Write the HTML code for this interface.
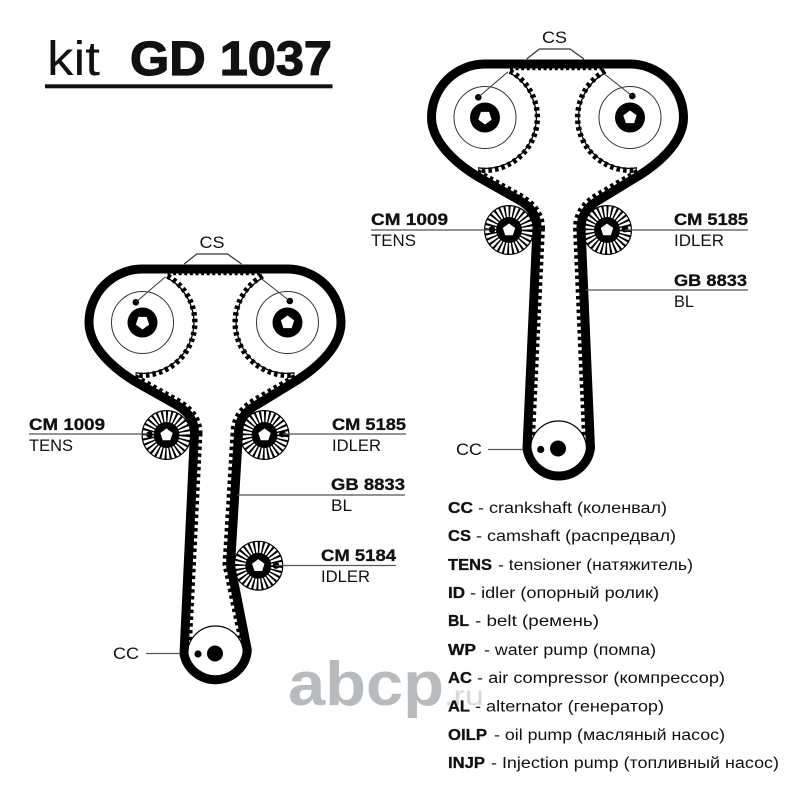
<!DOCTYPE html>
<html><head><meta charset="utf-8"><style>
html,body{margin:0;padding:0;background:#fff}
svg{display:block}
text{font-family:"Liberation Sans",sans-serif;fill:#111}
.b{font-weight:700}
.l{font-size:16.5px}
.lb{font-size:16.5px;font-weight:700;stroke:#111;stroke-width:.3}
.t{font-size:15.5px}
.tb{font-size:15.5px;font-weight:700;stroke:#111;stroke-width:.3}
.belt{fill:none;stroke:#000;stroke-width:9;stroke-linejoin:round}
.tooth{fill:none;stroke:#000;stroke-width:4;stroke-dasharray:3.5 3.3}
.ptooth{fill:none;stroke:#000;stroke-width:5.4;stroke-dasharray:3.5 3.1}
.ring{fill:none;stroke:#000;stroke-width:1.3}
.thin{fill:none;stroke:#333;stroke-width:1}
.lead{fill:none;stroke:#555;stroke-width:1.2}
</style></head><body>
<svg width="800" height="800" viewBox="0 0 800 800" xmlns="http://www.w3.org/2000/svg">
<defs>
<g id="idler">
<circle r="24.4" fill="#fff" stroke="#000" stroke-width="1.2"/>
<circle r="18.5" fill="none" stroke="#000" stroke-width="12" pathLength="112" stroke-dasharray="1.7 2.3"/>
<circle r="13" fill="#000"/>
<polygon points="0,-6.5 6.2,-2 3.8,5.3 -3.8,5.3 -6.2,-2" fill="#fff"/>
</g>
<g id="top">
<!-- teeth -->
<path class="tooth" style="stroke-width:3;stroke-dasharray:3 2.6" d="M510,68.8H605"/>
<path class="ptooth" d="M510,71 A53,53 0 0 1 478,170"/>
<path class="ptooth" d="M605,71 A53,53 0 0 0 637,170"/>
<path class="ring" d="M509,72.5 A50.8,50.8 0 0 1 478,167.8"/>
<path class="ring" d="M606,72.5 A50.8,50.8 0 0 0 637,167.8"/>
<path class="tooth" d="M478,171 L519,194 Q543,207 543,228"/>
<path class="tooth" d="M637,171 L597,194 Q575,207 575,228"/>
<!-- idlers -->
<use href="#idler" x="509" y="230"/>
<use href="#idler" x="607" y="230"/>
<circle cx="492" cy="229.5" r="3.4"/>
<circle cx="625" cy="229" r="3.4"/>
<!-- cam left -->
<circle cx="485" cy="117.5" r="31" class="thin"/>
<circle cx="485" cy="117.5" r="15"/>
<polygon transform="translate(485 117.5)" points="0,7 6.66,2.16 4.11,-5.66 -4.11,-5.66 -6.66,2.16" fill="#fff"/>
<circle cx="478.3" cy="97.3" r="3.3"/>
<path class="thin" d="M478.3,97.3L508,71.7"/>
<!-- cam right -->
<circle cx="630" cy="117.5" r="31" class="thin"/>
<circle cx="630" cy="117.5" r="15"/>
<polygon transform="translate(630 117.5)" points="0,-7 6.66,-2.16 4.11,5.66 -4.11,5.66 -6.66,-2.16" fill="#fff"/>
<circle cx="632.3" cy="96" r="3.3"/>
<path class="thin" d="M632.3,96L603,73"/>
<!-- belt upper -->
<path class="belt" d="M537,228 Q537,210 519,200 L480,178 C458,165 431.5,143 431.5,117.5 A53.5,53.5 0 0 1 485,64 H630 A53.5,53.5 0 0 1 683.5,117.5 C683.5,143 657,165 635,178 L599,200 Q581,210 581,228"/>
<!-- CS bracket -->
<path class="lead" style="stroke:#333" d="M526.7,59L539.3,49H570L584,59"/>
<text class="l" x="542" y="43" textLength="25" lengthAdjust="spacingAndGlyphs">CS</text>
</g>
</defs>

<!-- Title -->
<text x="47" y="75" font-size="48" textLength="53" lengthAdjust="spacingAndGlyphs">kit</text>
<text x="130" y="75" font-size="48" font-weight="700" stroke="#111" stroke-width="1.2" textLength="202" lengthAdjust="spacingAndGlyphs">GD 1037</text>
<rect x="45" y="84.3" width="287.5" height="4" fill="#111"/>

<!-- Watermark -->
<text x="288" y="705" font-size="62" font-weight="700" style="fill:#b7bbbe" textLength="156" lengthAdjust="spacingAndGlyphs">abcp</text>
<text x="444" y="705" font-size="28" style="fill:#d6d9db" textLength="40" lengthAdjust="spacingAndGlyphs">.ru</text>

<!-- Right diagram -->
<use href="#top"/>
<path class="tooth" d="M543,228L533,438"/>
<path class="tooth" d="M575,228L584,438"/>
<circle cx="558.5" cy="449" r="28" fill="#fff" stroke="#000" stroke-width="1.2"/>
<circle cx="558" cy="448.5" r="8"/>
<circle cx="540.7" cy="449.5" r="3.6"/>
<path class="belt" d="M537,228 L527,448 A32,32 0 0 0 590.5,448 L581,228"/>
<path class="lead" d="M371,230H490M625,230H748M586,290H748M488,449.5H523"/>
<text class="lb" x="371" y="225" textLength="77" lengthAdjust="spacingAndGlyphs">CM 1009</text>
<text class="l" x="371" y="246" textLength="45" lengthAdjust="spacingAndGlyphs">TENS</text>
<text class="lb" x="674" y="225" textLength="74" lengthAdjust="spacingAndGlyphs">CM 5185</text>
<text class="l" x="674" y="246" textLength="50" lengthAdjust="spacingAndGlyphs">IDLER</text>
<text class="lb" x="674" y="286" textLength="73" lengthAdjust="spacingAndGlyphs">GB 8833</text>
<text class="l" x="674" y="307" textLength="20" lengthAdjust="spacingAndGlyphs">BL</text>
<text class="l" x="456" y="455" textLength="26" lengthAdjust="spacingAndGlyphs">CC</text>

<!-- Left diagram -->
<use href="#top" transform="translate(-342.5 205)"/>
<use href="#idler" x="258.3" y="565.7"/>
<circle cx="276" cy="565.5" r="3.4"/>
<path class="tooth" d="M200.5,433L190,642"/>
<path class="tooth" d="M232.5,433L224.5,565L240,638"/>
<circle cx="215.5" cy="654" r="28" fill="#fff" stroke="#000" stroke-width="1.2"/>
<circle cx="215" cy="653.5" r="8"/>
<circle cx="198" cy="654" r="3.6"/>
<path class="belt" d="M194.5,433 L184,654 A32,32 0 0 0 247.3,650 L230.5,565 L238.5,433"/>
<path class="lead" d="M29,434H148M283,434H406M237,495H405M276,565.5H396M146,653.5H180"/>
<text class="lb" x="29" y="430" textLength="76" lengthAdjust="spacingAndGlyphs">CM 1009</text>
<text class="l" x="29" y="451" textLength="44" lengthAdjust="spacingAndGlyphs">TENS</text>
<text class="lb" x="332" y="430" textLength="74" lengthAdjust="spacingAndGlyphs">CM 5185</text>
<text class="l" x="332" y="451" textLength="49" lengthAdjust="spacingAndGlyphs">IDLER</text>
<text class="lb" x="331" y="490" textLength="74" lengthAdjust="spacingAndGlyphs">GB 8833</text>
<text class="l" x="331" y="511" textLength="21" lengthAdjust="spacingAndGlyphs">BL</text>
<text class="lb" x="321" y="561" textLength="75" lengthAdjust="spacingAndGlyphs">CM 5184</text>
<text class="l" x="321" y="582" textLength="49" lengthAdjust="spacingAndGlyphs">IDLER</text>
<text class="l" x="113" y="659" textLength="26" lengthAdjust="spacingAndGlyphs">CC</text>

<!-- Legend -->
<text class="tb" x="448" y="513" textLength="25" lengthAdjust="spacingAndGlyphs">CC</text>
<text class="t" x="478" y="513" textLength="189" lengthAdjust="spacingAndGlyphs">- crankshaft (коленвал)</text>
<text class="tb" x="448" y="541" textLength="23" lengthAdjust="spacingAndGlyphs">CS</text>
<text class="t" x="476" y="541" textLength="200" lengthAdjust="spacingAndGlyphs">- camshaft (распредвал)</text>
<text class="tb" x="448" y="570" textLength="44" lengthAdjust="spacingAndGlyphs">TENS</text>
<text class="t" x="498" y="570" textLength="195" lengthAdjust="spacingAndGlyphs">- tensioner (натяжитель)</text>
<text class="tb" x="448" y="598" textLength="17" lengthAdjust="spacingAndGlyphs">ID</text>
<text class="t" x="470" y="598" textLength="189" lengthAdjust="spacingAndGlyphs">- idler (опорный ролик)</text>
<text class="tb" x="448" y="626" textLength="21" lengthAdjust="spacingAndGlyphs">BL</text>
<text class="t" x="475" y="626" textLength="124" lengthAdjust="spacingAndGlyphs">- belt (ремень)</text>
<text class="tb" x="448" y="655" textLength="28" lengthAdjust="spacingAndGlyphs">WP</text>
<text class="t" x="484" y="655" textLength="172" lengthAdjust="spacingAndGlyphs">- water pump (помпа)</text>
<text class="tb" x="448" y="683" textLength="24" lengthAdjust="spacingAndGlyphs">AC</text>
<text class="t" x="477" y="683" textLength="248" lengthAdjust="spacingAndGlyphs">- air compressor (компрессор)</text>
<text class="tb" x="448" y="711.5" textLength="22" lengthAdjust="spacingAndGlyphs">AL</text>
<text class="t" x="475" y="711.5" textLength="189" lengthAdjust="spacingAndGlyphs">- alternator (генератор)</text>
<text class="tb" x="448" y="740" textLength="39" lengthAdjust="spacingAndGlyphs">OILP</text>
<text class="t" x="494" y="740" textLength="231" lengthAdjust="spacingAndGlyphs">- oil pump (масляный насос)</text>
<text class="tb" x="448" y="768" textLength="37" lengthAdjust="spacingAndGlyphs">INJP</text>
<text class="t" x="491" y="768" textLength="288" lengthAdjust="spacingAndGlyphs">- Injection pump (топливный насос)</text>
</svg>
</body></html>
